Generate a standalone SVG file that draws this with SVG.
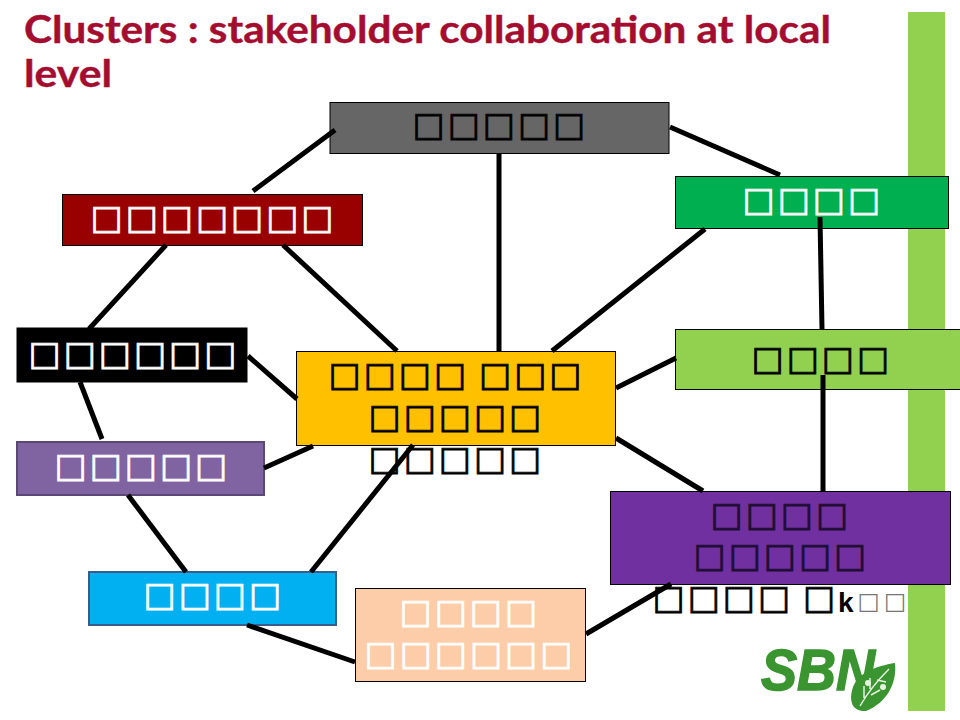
<svg xmlns="http://www.w3.org/2000/svg" width="960" height="720" viewBox="0 0 960 720">
<style>
.title{font:bold 38px Lato,"Open Sans",sans-serif;fill:#a50d30;stroke:#a50d30;stroke-width:.4}
.box{stroke:#000;stroke-width:1}
.t{font-family:"DejaVu Sans",sans-serif;font-size:34px;letter-spacing:3px;word-spacing:-3.8px;stroke-width:.8}
.w{fill:#fff;stroke:#fff}.k{fill:#000;stroke:#000}.d{fill:#1f0d33;stroke:#1f0d33}
.c line{stroke:#000;stroke-width:5}
</style>
<rect x="908" y="12" width="37" height="699" fill="#92d050"/>
<text class="title" x="24" y="43" textLength="807" lengthAdjust="spacingAndGlyphs">Clusters : stakeholder collaboration at local</text>
<text class="title" x="24" y="87" textLength="88" lengthAdjust="spacingAndGlyphs">level</text>
<g id="n1"><rect class="box" x="330" y="102.500" width="339" height="51" fill="#666"/><text class="t k" x="412.600" y="136">□□□□□</text></g>
<g id="n2"><rect class="box" x="62.500" y="194.500" width="300" height="51" fill="#900"/><text class="t w" x="90.600" y="229">□□□□□□□</text></g>
<g id="n3"><rect class="box" x="675.500" y="176.500" width="273" height="52" fill="#00b050"/><text class="t w" x="742.600" y="211">□□□□</text></g>
<g id="n4"><rect class="box" x="17" y="328" width="230" height="54" fill="#000"/><text class="t w" x="28.600" y="365">□□□□□□</text></g>
<g id="n5"><rect class="box" x="296.500" y="351.500" width="319" height="94" fill="#ffc000"/><text class="t k" x="328.600" y="386">□□□□ □□□</text><text class="t k" x="368.600" y="428">□□□□□</text><text class="t k" x="368.600" y="470">□□□□□</text></g>
<g id="n6"><rect class="box" x="675.500" y="329.500" width="285" height="60" fill="#92d050"/><text class="t k" x="751.600" y="370">□□□□</text></g>
<g id="n7"><rect x="17" y="442" width="247" height="53" fill="#8064a2" stroke="#5c4776" stroke-width="2"/><text class="t w" x="54.600" y="477">□□□□□</text></g>
<g id="n8"><rect class="box" x="610.500" y="491.500" width="340" height="93" fill="#7030a0"/><text class="t d" x="710.600" y="526">□□□□</text><text class="t d" x="693.600" y="567">□□□□□</text><text class="t k" x="652.600" y="609">□□□□ □</text><text x="838" y="612" font-family="Liberation Sans,sans-serif" font-weight="bold" font-size="28" fill="#000">k</text><text x="857.600" y="609" font-family="DejaVu Sans,sans-serif" font-size="23.500" fill="#777" letter-spacing="4.300">□□</text></g>
<g id="n9"><rect x="89" y="572" width="247" height="53" fill="#00b0f0" stroke="#385d8a" stroke-width="2"/><text class="t w" x="143.600" y="606">□□□□</text></g>
<g id="n10"><rect class="box" x="355.500" y="588.500" width="230" height="93" fill="#fccda8"/><text class="t w" x="399.600" y="623">□□□□</text><text class="t w" x="364.600" y="665">□□□□□□</text></g>
<g class="c" id="connectors">
<line x1="253" y1="191" x2="335" y2="130"/>
<line x1="670" y1="127" x2="780" y2="175"/>
<line x1="499" y1="153" x2="499" y2="351"/>
<line x1="705" y1="229" x2="552" y2="351"/>
<line x1="820" y1="217" x2="822" y2="329"/>
<line x1="823" y1="375" x2="823" y2="492"/>
<line x1="166" y1="245" x2="89" y2="329"/>
<line x1="283" y1="245" x2="397" y2="351"/>
<line x1="248" y1="356" x2="297" y2="399"/>
<line x1="80" y1="382" x2="102" y2="439"/>
<line x1="264" y1="468" x2="313" y2="446"/>
<line x1="128" y1="495" x2="186" y2="572"/>
<line x1="413" y1="445" x2="311" y2="572"/>
<line x1="616" y1="388" x2="676" y2="358"/>
<line x1="616" y1="438" x2="703" y2="491"/>
<line x1="247" y1="625" x2="355" y2="662"/>
<line x1="586" y1="634" x2="671" y2="584"/>
</g>
<g id="logo">
<text x="761" y="690" font-family="Liberation Sans,sans-serif" font-weight="bold" font-style="italic" font-size="58" fill="#3a9430" stroke="#3a9430" stroke-width="1.500" textLength="114" lengthAdjust="spacingAndGlyphs">SBN</text>
<path d="M895 663C897 682 888 702 866 711C853 712 848 702 853 687C858 673 876 666 895 663Z" fill="#3a9430"/>
<path d="M860 706C868 692 878 680 889 669M864 698L864 686M870 689L870 678M877 680L886 682M871 695L880 690" fill="none" stroke="#e4f2de" stroke-width="1.500"/>
<circle cx="868" cy="683" r="3" fill="#e4f2de"/><circle cx="883" cy="687" r="3" fill="#e4f2de"/>
</g>
</svg>
